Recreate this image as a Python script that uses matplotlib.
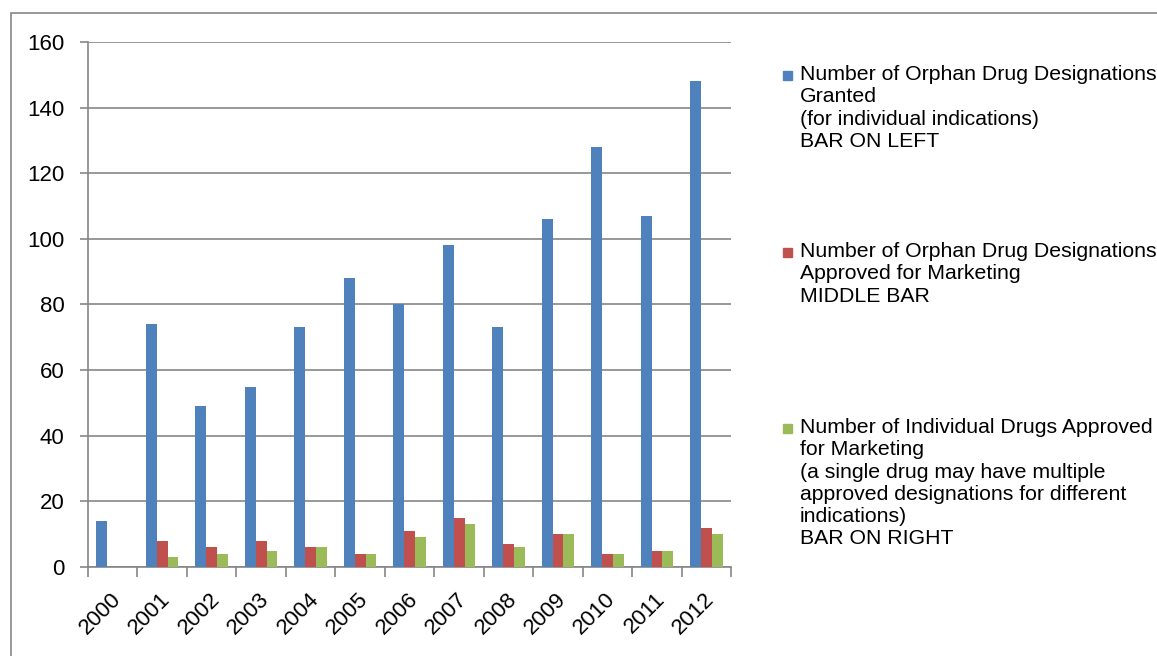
import numpy as np
import matplotlib.pyplot as plt
from matplotlib.patches import Rectangle

plt.rcParams['font.family'] = ['Liberation Sans', 'DejaVu Sans']

years = ['2000', '2001', '2002', '2003', '2004', '2005', '2006',
         '2007', '2008', '2009', '2010', '2011', '2012']
designations = [14, 74, 49, 55, 73, 88, 80, 98, 73, 106, 128, 107, 148]
approved_designations = [0, 8, 6, 8, 6, 4, 11, 15, 7, 10, 4, 5, 12]
approved_drugs = [0, 3, 4, 5, 6, 4, 9, 13, 6, 10, 4, 5, 10]

labels = [
    'Number of Orphan Drug Designations\nGranted\n(for individual indications)\nBAR ON LEFT',
    'Number of Orphan Drug Designations\nApproved for Marketing\nMIDDLE BAR',
    'Number of Individual Drugs Approved\nfor Marketing\n(a single drug may have multiple\n'
    'approved designations for different\nindications)\nBAR ON RIGHT',
]
colors = ['#4F81BD', '#C0504D', '#9BBB59']
grey = '#868686'

fig = plt.figure(figsize=(11.57, 6.56), dpi=100)
ax = fig.add_axes([0.076, 0.1357, 0.556, 0.8003])

x = np.arange(len(years))
w = 0.22
for i, vals in enumerate([designations, approved_designations, approved_drugs]):
    ax.bar(x + (i - 1) * w, vals, w, color=colors[i], zorder=3)

ax.set_xlim(-0.5, len(years) - 0.5)
ax.set_ylim(0, 160)
ax.set_yticks(range(0, 161, 20))
ax.yaxis.grid(True, color=grey, linewidth=1.2, zorder=0)
ax.tick_params(axis='y', length=6, width=1.2, color=grey, labelsize=16, pad=11)

# category boundaries carry the tick marks, labels sit at the centres
ax.set_xticks(np.arange(-0.5, len(years)), minor=True)
ax.set_xticks(x + 0.1)
ax.tick_params(axis='x', which='minor', length=7, width=1.2, color=grey, direction='out')
ax.tick_params(axis='x', which='major', length=0, pad=21)
ax.set_xticklabels(years, rotation=45, ha='right', va='center',
                   rotation_mode='anchor', fontsize=16)

for side in ['top', 'right']:
    ax.spines[side].set_visible(False)
for side in ['left', 'bottom']:
    ax.spines[side].set_color(grey)
    ax.spines[side].set_linewidth(1.2)

# legend entries placed down the right side
W, H = 1157, 656
tops = [65, 242, 418]
for lab, col, top in zip(labels, colors, tops):
    fig.patches.append(Rectangle((783 / W, 1 - (top + 15) / H), 9 / W, 9 / H,
                                 transform=fig.transFigure, color=col))
    fig.text(800 / W, 1 - top / H, lab, fontsize=15.3, va='top', ha='left',
             linespacing=1.22)

# outer chart frame
fig.patches.append(Rectangle((11 / W, -0.05), 1.1, 1 - 13 / H + 0.05,
                             transform=fig.transFigure, fill=False,
                             edgecolor=grey, linewidth=1.2))

fig.savefig('out.png', dpi=100)
